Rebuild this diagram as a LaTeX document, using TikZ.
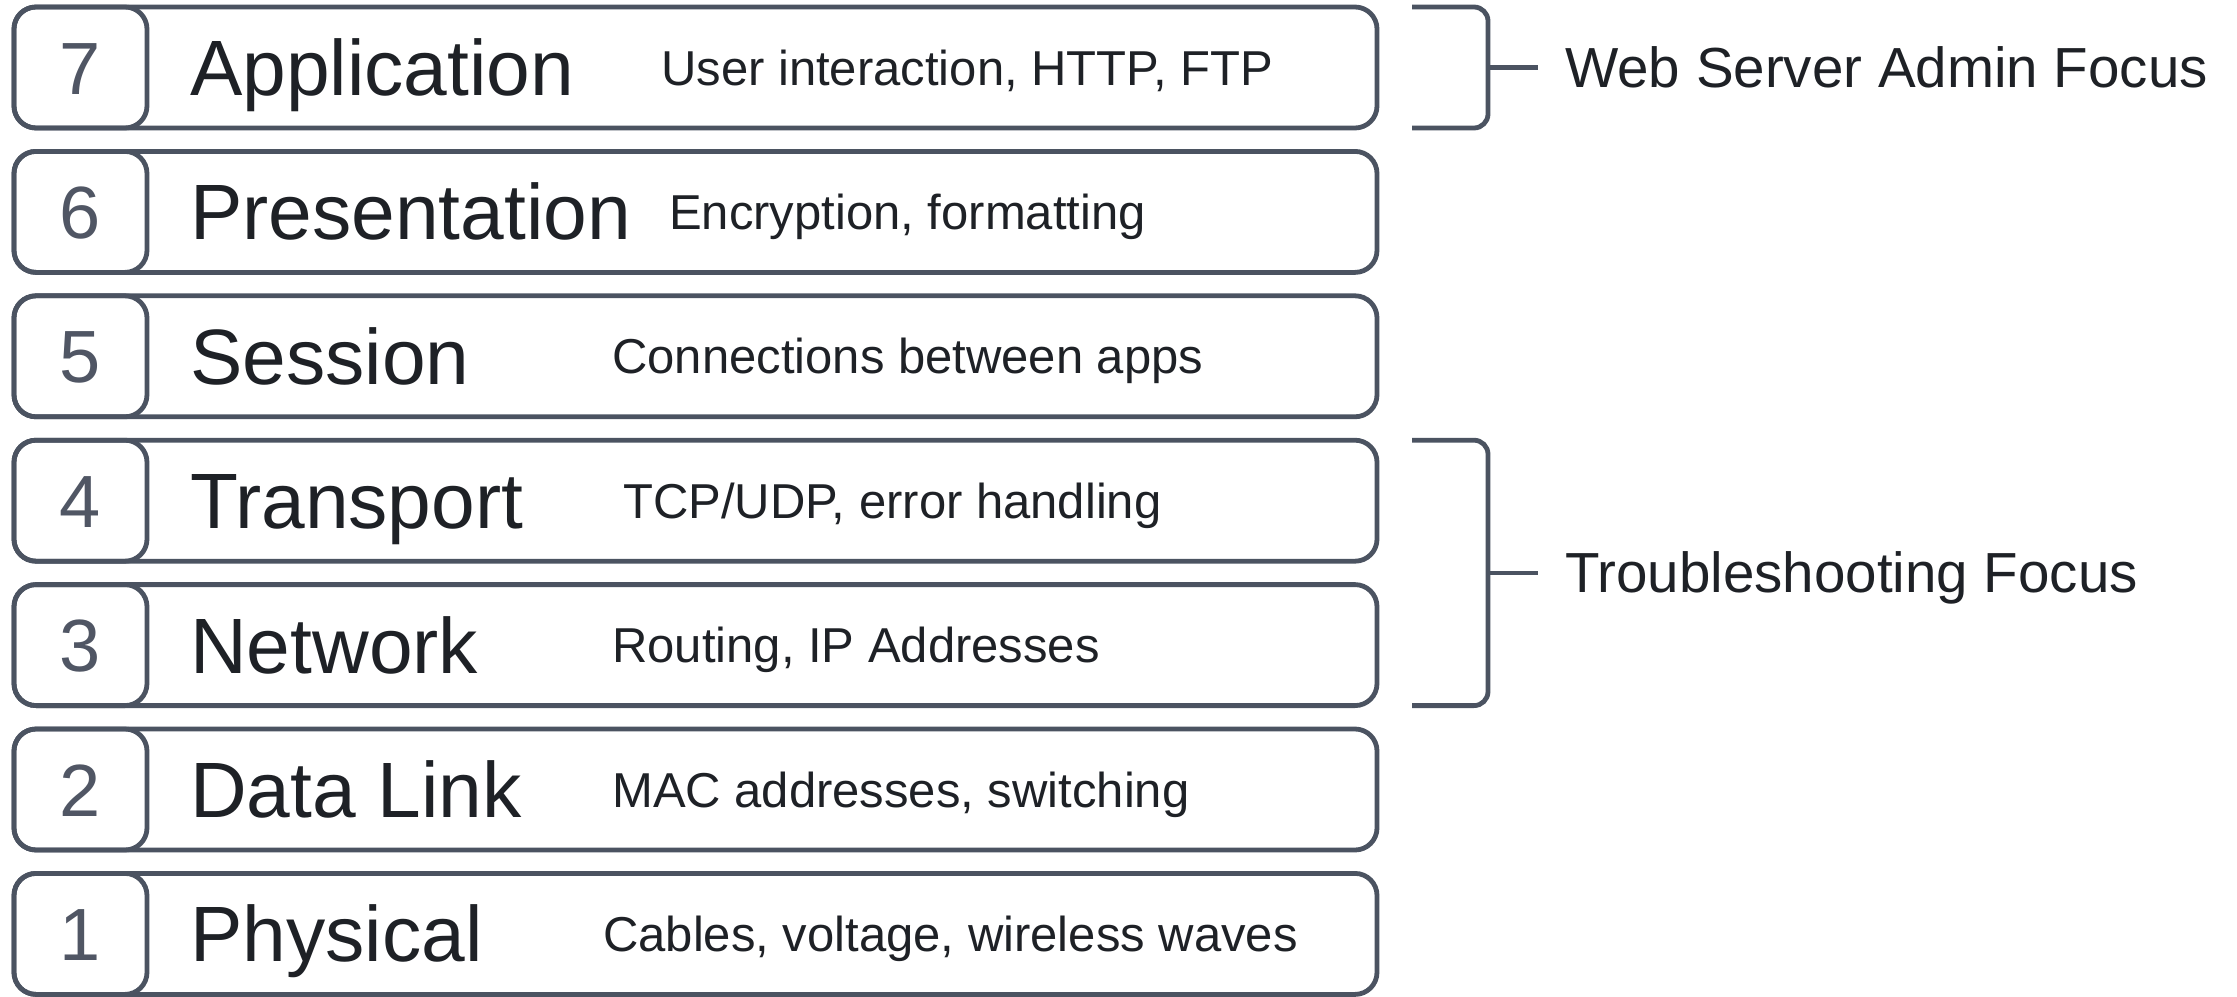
\documentclass[tikz,border=0pt]{standalone}
\usepackage{fontspec}
\setmainfont{Liberation Sans}
\usetikzlibrary{calc}
\definecolor{edge}{HTML}{4B5361}
\definecolor{ink}{HTML}{1E2126}
\definecolor{numink}{HTML}{505664}
\begin{document}
\begin{tikzpicture}[x=1pt,y=-1pt,
  layerbox/.style={draw=edge, line width=4.8pt, rounded corners=22pt,
    minimum width=1363pt, minimum height=121pt, inner sep=0pt, outer sep=0pt, anchor=west},
  numbox/.style={draw=edge, line width=4.8pt, rounded corners=22pt,
    minimum width=133pt, minimum height=121pt, inner sep=0pt, outer sep=0pt, anchor=west,
    font=\fontsize{74}{80}\selectfont, text=numink, text height=53pt, text depth=0pt},
  layername/.style={anchor=west, inner sep=0pt, text=ink,
    font=\fontsize{78.5}{90}\selectfont, text height=56pt, text depth=0pt},
  layerdesc/.style={anchor=west, inner sep=0pt, text=ink,
    font=\fontsize{49}{56}\selectfont, text height=35pt, text depth=0pt},
  focuslabel/.style={anchor=west, inner sep=0pt, text=ink,
    font=\fontsize{56.5}{64}\selectfont, text height=40pt, text depth=0pt},
  bracket/.style={draw=edge, line width=4.8pt, rounded corners=14pt},
  tick/.style={draw=edge, line width=4.8pt}]

% page
\fill[white] (0,0) rectangle (2237,996);
\useasboundingbox (0,0) rectangle (2237,996);

% the seven OSI layers, top to bottom
\foreach \n/\name/\desc/\dx [count=\k from 0] in {
  7/Application/{User interaction, HTTP, FTP}/661,
  6/Presentation/{Encryption, formatting}/669,
  5/Session/{Connections between apps}/612,
  4/Transport/{TCP/UDP, error handling}/623,
  3/Network/{Routing, IP Addresses}/612,
  2/Data Link/{MAC addresses, switching}/612,
  1/Physical/{Cables, voltage, wireless waves}/603} {
  \pgfmathsetmacro{\cy}{7+144.4*\k+60.5}
  \node[layerbox] (L\n) at (14,\cy) {};
  \node[numbox] (N\n) at (14,\cy) {\n};
  \node[layername] (T\n) at (190,\cy) {\name};
  \node[layerdesc] (D\n) at (\dx,\cy) {\desc};
}

% bracket: application layer
\coordinate (wa) at ([xshift=35pt]L7.north east);
\coordinate (wb) at ([xshift=35pt]L7.south east);
\draw[bracket] (wa) -- ([xshift=111pt]L7.north east) -- ([xshift=111pt]L7.south east) -- (wb);
\coordinate (wm) at ([xshift=111pt]L7.east);
\coordinate (wt) at ([xshift=161pt]L7.east);
\draw[tick] (wm) -- (wt);
\node[focuslabel] (WF) at ([xshift=188pt]L7.east) {Web Server Admin Focus};

% bracket: transport and network layers
\coordinate (ta) at ([xshift=35pt]L4.north east);
\coordinate (tb) at ([xshift=35pt]L3.south east);
\draw[bracket] (ta) -- ([xshift=111pt]L4.north east) -- ([xshift=111pt]L3.south east) -- (tb);
\coordinate (tm) at ($([xshift=111pt]L4.north east)!0.5!([xshift=111pt]L3.south east)$);
\coordinate (tt) at ([xshift=50pt]tm);
\draw[tick] (tm) -- (tt);
\node[focuslabel] (TF) at ([xshift=77pt]tm) {Troubleshooting Focus};
\end{tikzpicture}
\end{document}
